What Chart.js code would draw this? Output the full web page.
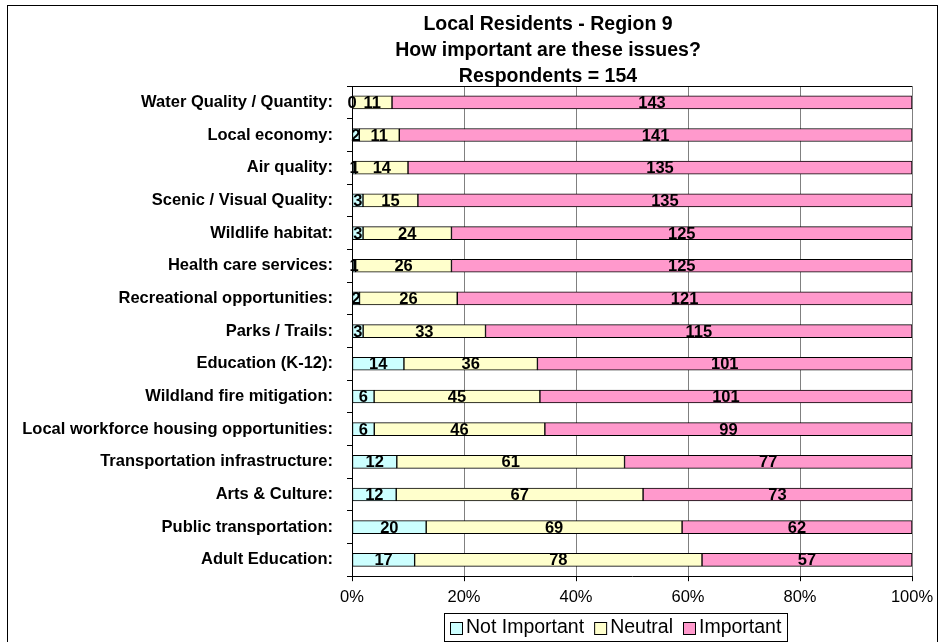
<!DOCTYPE html>
<html>
<head>
<meta charset="utf-8">
<script src="https://cdn.jsdelivr.net/npm/chart.js@4"></script>
<style>
  html, body { margin: 0; padding: 0; background: #fff; }
  #wrap { width: 943px; height: 642px; position: relative; }
</style>
</head>
<body>
<div id="wrap"><canvas id="c" width="943" height="642"></canvas></div>
<script>
const categories = [
  "Water Quality / Quantity:",
  "Local economy:",
  "Air quality:",
  "Scenic / Visual Quality:",
  "Wildlife habitat:",
  "Health care services:",
  "Recreational opportunities:",
  "Parks / Trails:",
  "Education (K-12):",
  "Wildland fire mitigation:",
  "Local workforce housing opportunities:",
  "Transportation infrastructure:",
  "Arts & Culture:",
  "Public transportation:",
  "Adult Education:"
];
const notImportant = [0, 2, 1, 3, 3, 1, 2, 3, 14, 6, 6, 12, 12, 20, 17];
const neutral      = [11, 11, 14, 15, 24, 26, 26, 33, 36, 45, 46, 61, 67, 69, 78];
const important    = [143, 141, 135, 135, 125, 125, 121, 115, 101, 101, 99, 77, 73, 62, 57];
const seriesNames  = ["Not Important", "Neutral", "Important"];
const seriesColors = ["#CCFFFF", "#FFFFCC", "#FF99CC"];
const titleLines   = ["Local Residents - Region 9", "How important are these issues?", "Respondents = 154"];
const xTicks       = [0, 20, 40, 60, 80, 100];

const FONT = "'Liberation Sans', Arial, Helvetica, sans-serif";
const counts = [notImportant, neutral, important];
const totals = categories.map((_, i) => counts.reduce((s, a) => s + a[i], 0));
const pct = arr => arr.map((v, i) => v / totals[i] * 100);

const PLOT_LEFT = 352;
const PAD_LEFT = 10;

const framePlugin = {
  id: 'frame',
  beforeDraw(chart) {
    const ctx = chart.ctx;
    ctx.save();
    ctx.fillStyle = '#fff';
    ctx.fillRect(0, 0, chart.width, chart.height);
    ctx.strokeStyle = '#000';
    ctx.lineWidth = 1;
    ctx.strokeRect(7.5, 5.5, 930, 650);
    ctx.restore();
  },
  afterDraw(chart) {
    const ctx = chart.ctx;
    const a = chart.chartArea;
    ctx.save();
    // title (three lines)
    ctx.fillStyle = '#000';
    ctx.font = "bold 19.5px " + FONT;
    ctx.textAlign = 'center';
    ctx.textBaseline = 'middle';
    const tCx = 548, tTop = 25, tLH = 25.8;
    titleLines.forEach((t, i) => ctx.fillText(t, tCx, tTop + i * tLH));

    // top border of plot area
    ctx.strokeStyle = '#000';
    ctx.lineWidth = 1;
    ctx.beginPath();
    ctx.moveTo(a.left, Math.round(a.top) + 0.5);
    ctx.lineTo(a.right, Math.round(a.top) + 0.5);
    ctx.stroke();

    // legend with box
    ctx.font = "19.5px " + FONT;
    const sq = 12, gapSq = 4, gapItem = 10, padX = 5;
    const widths = chart.data.datasets.map(d => ctx.measureText(d.label).width);
    let total = padX * 2 + 2;
    widths.forEach((w, i) => { total += sq + gapSq + w + (i < widths.length - 1 ? gapItem : 0); });
    const cx = 616;
    const left = Math.round(cx - total / 2);
    const top = 613, h = 28;
    ctx.strokeRect(left + 0.5, top + 0.5, Math.round(total), h);
    let x = left + padX + 1;
    const cy = top + h / 2 + 1;
    chart.data.datasets.forEach((d, i) => {
      ctx.fillStyle = d.backgroundColor;
      ctx.fillRect(x + 0.5, cy - sq / 2 + 0.5, sq, sq);
      ctx.strokeStyle = '#000';
      ctx.strokeRect(x + 0.5, cy - sq / 2 + 0.5, sq, sq);
      x += sq + gapSq;
      ctx.fillStyle = '#000';
      ctx.textAlign = 'left';
      ctx.textBaseline = 'middle';
      ctx.fillText(d.label, x, cy);
      x += widths[i] + gapItem;
    });
    ctx.restore();
  }
};

const labelPlugin = {
  id: 'valueLabels',
  afterDatasetsDraw(chart) {
    const ctx = chart.ctx;
    ctx.save();
    ctx.font = "bold 16.5px " + FONT;
    ctx.fillStyle = '#000';
    ctx.textAlign = 'center';
    ctx.textBaseline = 'middle';
    chart.data.datasets.forEach((ds, di) => {
      const meta = chart.getDatasetMeta(di);
      meta.data.forEach((bar, i) => {
        const v = counts[di][i];
        const xc = (bar.x + bar.base) / 2;
        ctx.fillText(String(v), xc, bar.y + 1);
      });
    });
    ctx.restore();
  }
};

new Chart(document.getElementById('c'), {
  type: 'bar',
  data: {
    labels: categories,
    datasets: seriesNames.map((n, i) => ({
      label: n,
      data: pct(counts[i]),
      backgroundColor: seriesColors[i],
      borderColor: '#000',
      borderWidth: 1,
      borderSkipped: false,
      barThickness: 13
    }))
  },
  options: {
    indexAxis: 'y',
    responsive: false,
    animation: false,
    devicePixelRatio: 1,
    layout: { padding: { left: PAD_LEFT, right: 31, top: 86, bottom: 29 } },
    plugins: {
      legend: { display: false },
      tooltip: { enabled: false },
      title: { display: false }
    },
    scales: {
      x: {
        stacked: true,
        min: 0, max: 100,
        afterBuildTicks(scale) { scale.ticks = xTicks.map(v => ({ value: v })); },
        ticks: {
          color: '#000',
          padding: 6,
          font: { family: FONT, size: 16.5 },
          callback: v => v + '%'
        },
        grid: { color: '#808080', tickColor: '#000', tickLength: 5 },
        border: { color: '#000', width: 1 }
      },
      y: {
        stacked: true,
        afterFit(scale) { scale.width = PLOT_LEFT - PAD_LEFT; },
        ticks: {
          color: '#000',
          padding: 14,
          autoSkip: false,
          font: { family: FONT, size: 16.5, weight: 'bold' }
        },
        grid: { drawOnChartArea: false, drawTicks: true, tickLength: 5, color: '#000', offset: true },
        border: { color: '#000', width: 1 }
      }
    }
  },
  plugins: [framePlugin, labelPlugin]
});
</script>
</body>
</html>
